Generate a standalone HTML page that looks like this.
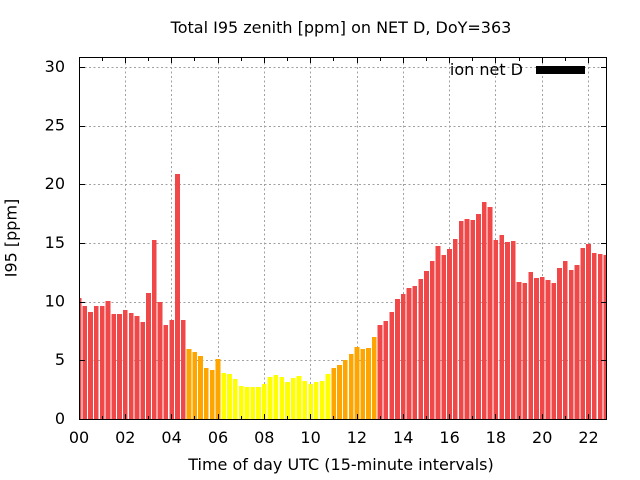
<!DOCTYPE html>
<html><head><meta charset="utf-8"><style>
html,body{margin:0;padding:0;background:#fff;}
svg{display:block;}
text{font-family:"DejaVu Sans","Liberation Sans",sans-serif;font-size:16px;fill:#000;}
</style></head><body>
<svg width="640" height="480" viewBox="0 0 640 480" xmlns="http://www.w3.org/2000/svg">
<rect x="0" y="0" width="640" height="480" fill="#fff"/>
<defs><clipPath id="pc"><rect x="79" y="57" width="527.5" height="362"/></clipPath></defs>
<g stroke="#a0a0a0" stroke-width="1" stroke-dasharray="2 2.5" fill="none" shape-rendering="crispEdges">
<line x1="80" y1="360.5" x2="606" y2="360.5"/>
<line x1="80" y1="302.5" x2="606" y2="302.5"/>
<line x1="80" y1="243.5" x2="606" y2="243.5"/>
<line x1="80" y1="184.5" x2="606" y2="184.5"/>
<line x1="80" y1="126.5" x2="606" y2="126.5"/>
<line x1="80" y1="67.5" x2="606" y2="67.5"/>
<line x1="125.5" y1="58" x2="125.5" y2="419"/>
<line x1="171.5" y1="58" x2="171.5" y2="419"/>
<line x1="218.5" y1="58" x2="218.5" y2="419"/>
<line x1="264.5" y1="58" x2="264.5" y2="419"/>
<line x1="310.5" y1="58" x2="310.5" y2="419"/>
<line x1="357.5" y1="58" x2="357.5" y2="419"/>
<line x1="403.5" y1="58" x2="403.5" y2="419"/>
<line x1="449.5" y1="58" x2="449.5" y2="419"/>
<line x1="495.5" y1="58" x2="495.5" y2="419"/>
<line x1="542.5" y1="58" x2="542.5" y2="419"/>
<line x1="588.5" y1="58" x2="588.5" y2="419"/>
</g>
<g clip-path="url(#pc)" shape-rendering="crispEdges">
<g fill="#f04848">
<rect x="76.65" y="298" width="4.7" height="121"/>
<rect x="82.44" y="306" width="4.7" height="113"/>
<rect x="88.23" y="312" width="4.7" height="107"/>
<rect x="94.02" y="306" width="4.7" height="113"/>
<rect x="99.81" y="306" width="4.7" height="113"/>
<rect x="105.60" y="301" width="4.7" height="118"/>
<rect x="111.39" y="314" width="4.7" height="105"/>
<rect x="117.18" y="314" width="4.7" height="105"/>
<rect x="122.97" y="310" width="4.7" height="109"/>
<rect x="128.76" y="313" width="4.7" height="106"/>
<rect x="134.55" y="316" width="4.7" height="103"/>
<rect x="140.34" y="322" width="4.7" height="97"/>
<rect x="146.13" y="293" width="4.7" height="126"/>
<rect x="151.92" y="240" width="4.7" height="179"/>
<rect x="157.71" y="302" width="4.7" height="117"/>
<rect x="163.50" y="325" width="4.7" height="94"/>
<rect x="169.29" y="320" width="4.7" height="99"/>
<rect x="175.08" y="174" width="4.7" height="245"/>
<rect x="180.87" y="320" width="4.7" height="99"/>
<rect x="377.73" y="325" width="4.7" height="94"/>
<rect x="383.52" y="321" width="4.7" height="98"/>
<rect x="389.31" y="312" width="4.7" height="107"/>
<rect x="395.10" y="299" width="4.7" height="120"/>
<rect x="400.89" y="294" width="4.7" height="125"/>
<rect x="406.68" y="288" width="4.7" height="131"/>
<rect x="412.47" y="286" width="4.7" height="133"/>
<rect x="418.26" y="279" width="4.7" height="140"/>
<rect x="424.05" y="271" width="4.7" height="148"/>
<rect x="429.84" y="261" width="4.7" height="158"/>
<rect x="435.63" y="246" width="4.7" height="173"/>
<rect x="441.42" y="255" width="4.7" height="164"/>
<rect x="447.21" y="249" width="4.7" height="170"/>
<rect x="453.00" y="239" width="4.7" height="180"/>
<rect x="458.79" y="221" width="4.7" height="198"/>
<rect x="464.58" y="219" width="4.7" height="200"/>
<rect x="470.37" y="220" width="4.7" height="199"/>
<rect x="476.16" y="214" width="4.7" height="205"/>
<rect x="481.95" y="202" width="4.7" height="217"/>
<rect x="487.74" y="207" width="4.7" height="212"/>
<rect x="493.53" y="240" width="4.7" height="179"/>
<rect x="499.32" y="235" width="4.7" height="184"/>
<rect x="505.11" y="242" width="4.7" height="177"/>
<rect x="510.90" y="241" width="4.7" height="178"/>
<rect x="516.69" y="282" width="4.7" height="137"/>
<rect x="522.48" y="283" width="4.7" height="136"/>
<rect x="528.27" y="272" width="4.7" height="147"/>
<rect x="534.06" y="278" width="4.7" height="141"/>
<rect x="539.85" y="277" width="4.7" height="142"/>
<rect x="545.64" y="280" width="4.7" height="139"/>
<rect x="551.43" y="283" width="4.7" height="136"/>
<rect x="557.22" y="268" width="4.7" height="151"/>
<rect x="563.01" y="261" width="4.7" height="158"/>
<rect x="568.80" y="270" width="4.7" height="149"/>
<rect x="574.59" y="265" width="4.7" height="154"/>
<rect x="580.38" y="248" width="4.7" height="171"/>
<rect x="586.17" y="244" width="4.7" height="175"/>
<rect x="591.96" y="253" width="4.7" height="166"/>
<rect x="597.75" y="254" width="4.7" height="165"/>
<rect x="603.54" y="255" width="4.7" height="164"/>
</g>
<g fill="#ffa500">
<rect x="186.66" y="349" width="4.7" height="70"/>
<rect x="192.45" y="352" width="4.7" height="67"/>
<rect x="198.24" y="356" width="4.7" height="63"/>
<rect x="204.03" y="368" width="4.7" height="51"/>
<rect x="209.82" y="370" width="4.7" height="49"/>
<rect x="215.61" y="359" width="4.7" height="60"/>
<rect x="331.41" y="368" width="4.7" height="51"/>
<rect x="337.20" y="365" width="4.7" height="54"/>
<rect x="342.99" y="360" width="4.7" height="59"/>
<rect x="348.78" y="354" width="4.7" height="65"/>
<rect x="354.57" y="347" width="4.7" height="72"/>
<rect x="360.36" y="349" width="4.7" height="70"/>
<rect x="366.15" y="348" width="4.7" height="71"/>
<rect x="371.94" y="337" width="4.7" height="82"/>
</g>
<g fill="#ffff00">
<rect x="221.40" y="373" width="4.7" height="46"/>
<rect x="227.19" y="374" width="4.7" height="45"/>
<rect x="232.98" y="379" width="4.7" height="40"/>
<rect x="238.77" y="386" width="4.7" height="33"/>
<rect x="244.56" y="387" width="4.7" height="32"/>
<rect x="250.35" y="387" width="4.7" height="32"/>
<rect x="256.14" y="387" width="4.7" height="32"/>
<rect x="261.93" y="384" width="4.7" height="35"/>
<rect x="267.72" y="377" width="4.7" height="42"/>
<rect x="273.51" y="375" width="4.7" height="44"/>
<rect x="279.30" y="377" width="4.7" height="42"/>
<rect x="285.09" y="382" width="4.7" height="37"/>
<rect x="290.88" y="378" width="4.7" height="41"/>
<rect x="296.67" y="376" width="4.7" height="43"/>
<rect x="302.46" y="381" width="4.7" height="38"/>
<rect x="308.25" y="384" width="4.7" height="35"/>
<rect x="314.04" y="382" width="4.7" height="37"/>
<rect x="319.83" y="381" width="4.7" height="38"/>
<rect x="325.62" y="374" width="4.7" height="45"/>
</g>
</g>
<g stroke="#000" stroke-width="1" fill="none" shape-rendering="crispEdges">
<rect x="79.5" y="57.5" width="527" height="362"/>
<path d="M80 360.5h5M80 302.5h5M80 243.5h5M80 184.5h5M80 126.5h5M80 67.5h5M606 360.5h-5M606 302.5h-5M606 243.5h-5M606 184.5h-5M606 126.5h-5M606 67.5h-5M125.5 419v-5M171.5 419v-5M218.5 419v-5M264.5 419v-5M310.5 419v-5M357.5 419v-5M403.5 419v-5M449.5 419v-5M495.5 419v-5M542.5 419v-5M588.5 419v-5M125.5 58v5M171.5 58v5M218.5 58v5M264.5 58v5M310.5 58v5M357.5 58v5M403.5 58v5M449.5 58v5M495.5 58v5M542.5 58v5M588.5 58v5M102.5 419v-3M148.5 419v-3M194.5 419v-3M241.5 419v-3M287.5 419v-3M333.5 419v-3M380.5 419v-3M426.5 419v-3M472.5 419v-3M519.5 419v-3M565.5 419v-3M102.5 58v3M148.5 58v3M194.5 58v3M241.5 58v3M287.5 58v3M333.5 58v3M380.5 58v3M426.5 58v3M472.5 58v3M519.5 58v3M565.5 58v3"/>
</g>
<g text-anchor="end">
<text x="65" y="424">0</text>
<text x="65" y="365">5</text>
<text x="65" y="306.5">10</text>
<text x="65" y="248">15</text>
<text x="65" y="189">20</text>
<text x="65" y="130.5">25</text>
<text x="65" y="72">30</text>
</g>
<g text-anchor="middle">
<text x="79" y="443">00</text>
<text x="125.3" y="443">02</text>
<text x="171.6" y="443">04</text>
<text x="218" y="443">06</text>
<text x="264.3" y="443">08</text>
<text x="310.6" y="443">10</text>
<text x="356.9" y="443">12</text>
<text x="403.2" y="443">14</text>
<text x="449.6" y="443">16</text>
<text x="495.9" y="443">18</text>
<text x="542.2" y="443">20</text>
<text x="588.5" y="443">22</text>
</g>
<text x="341" y="470" text-anchor="middle">Time of day UTC (15-minute intervals)</text>
<text transform="translate(16.5,238) rotate(-90)" text-anchor="middle">I95 [ppm]</text>
<text x="341" y="33" text-anchor="middle">Total I95 zenith [ppm] on NET D, DoY=363</text>
<text x="523" y="75" text-anchor="end">ion net D</text>
<rect x="536" y="66" width="49" height="8" fill="#000"/>
</svg>
</body></html>
